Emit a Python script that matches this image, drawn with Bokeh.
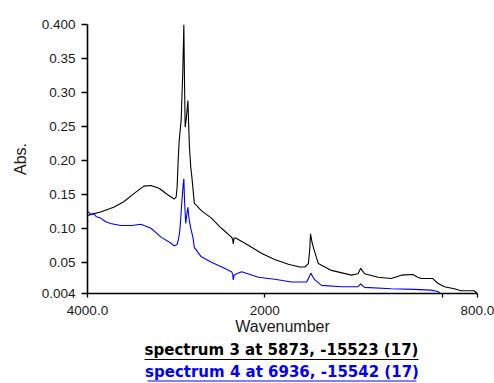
import numpy as np
from bokeh.plotting import figure
from bokeh.models import Range1d, FixedTicker
from bokeh.layouts import column
from bokeh.embed import file_html
from bokeh.resources import INLINE
from bokeh.core.properties import value

# ---------------- data ----------------
black_wn = [4000, 3852, 3705, 3591, 3477, 3364, 3284, 3193, 3091, 3023, 3000, 2989, 2977,
            2966, 2943, 2925, 2913, 2905, 2898, 2885, 2867, 2858, 2850, 2835, 2822, 2795,
            2716, 2602, 2489, 2375, 2362, 2356, 2345, 2318, 2185, 2034, 1944, 1867, 1803,
            1774, 1754, 1746, 1742, 1734, 1726, 1698, 1624, 1511, 1474, 1459, 1437, 1361,
            1287, 1230, 1165, 1137, 1118, 1052, 1024, 987, 931, 893, 819, 800]
black_abs = [0.119, 0.124, 0.131, 0.139, 0.151, 0.162, 0.163, 0.159, 0.149, 0.143, 0.146,
             0.160, 0.200, 0.228, 0.260, 0.330, 0.400, 0.310, 0.249, 0.262, 0.288, 0.250,
             0.220, 0.190, 0.175, 0.137, 0.126, 0.115, 0.100, 0.087, 0.084, 0.077, 0.086,
             0.085, 0.075, 0.063, 0.054, 0.047, 0.043, 0.043, 0.048, 0.070, 0.092, 0.080,
             0.072, 0.048, 0.038, 0.031, 0.033, 0.041, 0.033, 0.028, 0.026, 0.031, 0.032,
             0.028, 0.026, 0.026, 0.019, 0.014, 0.011, 0.008, 0.008, 0.004]

blue_wn = [4000, 3989, 3960, 3932, 3900, 3852, 3800, 3739, 3700, 3625, 3500, 3398, 3284,
           3170, 3057, 3023, 2990, 2977, 2962, 2955, 2935, 2920, 2913, 2905, 2892, 2880,
           2867, 2858, 2852, 2835, 2811, 2795, 2716, 2602, 2455, 2375, 2362, 2356, 2345,
           2318, 2261, 2072, 1944, 1848, 1764, 1752, 1740, 1728, 1717, 1680, 1567, 1474,
           1459, 1437, 1287, 1156, 1062, 1024, 1006, 900, 800]
blue_abs = [0.124, 0.124, 0.120, 0.122, 0.117, 0.115, 0.110, 0.107, 0.106, 0.104, 0.104,
            0.106, 0.100, 0.087, 0.078, 0.074, 0.076, 0.082, 0.093, 0.102, 0.140, 0.165,
            0.173, 0.140, 0.107, 0.120, 0.131, 0.118, 0.112, 0.100, 0.087, 0.072, 0.058,
            0.050, 0.041, 0.036, 0.033, 0.024, 0.031, 0.033, 0.036, 0.028, 0.025, 0.021,
            0.021, 0.027, 0.034, 0.028, 0.024, 0.016, 0.014, 0.014, 0.018, 0.013, 0.011,
            0.010, 0.009, 0.007, 0.003, 0.002, 0.002]

x_tick_wn = [4000, 2000, 1000, 800]
x_tick_labels = ["4000.0", "2000", "", "800.0"]
y_ticks = [0.004, 0.05, 0.10, 0.15, 0.20, 0.25, 0.30, 0.35, 0.40]
y_tick_labels = ["0.004", "0.05", "0.10", "0.15", "0.20", "0.25", "0.30", "0.35", "0.400"]
x_title = "Wavenumber"
y_title = "Abs."
legend_labels = ["spectrum 3 at 5873, -15523 (17)", "spectrum 4 at 6936, -15542 (17)"]
legend_colors = ["#000000", "#0000ff"]


def to_u(w):
    """Wavenumber axis with the region below 2000 expanded twofold."""
    w = np.asarray(w, dtype=float)
    return np.where(w >= 2000, 4000 - w, 2000 + 2 * (2000 - w))


FONT = "Liberation Sans"

p = figure(width=494, height=340, output_backend="svg", toolbar_location=None,
           title=None,
           x_range=Range1d(float(to_u(4000)), float(to_u(800))),
           y_range=Range1d(0.004, 0.400),
           min_border_left=87, min_border_right=17, min_border_top=24,
           min_border_bottom=47)
p.grid.visible = False
p.outline_line_color = None
p.background_fill_color = "white"
p.border_fill_color = "white"

p.line(to_u(black_wn), black_abs, line_color=legend_colors[0], line_width=1.1)
p.line(to_u(blue_wn), blue_abs, line_color=legend_colors[1], line_width=1.1)

xt = [float(v) for v in to_u(x_tick_wn)]
p.xaxis.ticker = FixedTicker(ticks=xt)
p.xaxis.major_label_overrides = {t: lab for t, lab in zip(xt, x_tick_labels)}
p.yaxis.ticker = FixedTicker(ticks=y_ticks)
p.yaxis.major_label_overrides = {t: lab for t, lab in zip(y_ticks, y_tick_labels)}
p.yaxis.axis_label = y_title
p.xaxis.axis_label = x_title

for ax in (p.xaxis[0], p.yaxis[0]):
    ax.axis_line_color = "black"
    ax.axis_line_width = 1.6
    ax.major_tick_line_color = "black"
    ax.major_tick_line_width = 1.3
    ax.major_tick_in = 0
    ax.minor_tick_line_color = None
    ax.major_label_text_font = FONT
    ax.major_label_text_font_size = "13.5px"
    ax.major_label_text_color = "#1a1a1a"
    ax.axis_label_text_font = FONT
    ax.axis_label_text_font_size = "16px"
    ax.axis_label_text_font_style = "normal"
    ax.axis_label_text_color = "#1a1a1a"
p.xaxis.major_tick_out = 4
p.xaxis.major_label_standoff = 8
p.xaxis.axis_label_standoff = 0
p.yaxis.major_tick_out = 6
p.yaxis.major_label_standoff = 6
p.yaxis.axis_label_standoff = 10

# ---------- bottom panel: underlined spectrum captions ----------
# The panel's frame shares the horizontal extent of the chart frame (87..477) and
# fills the panel's full height, so its coordinates are page pixels.
q = figure(width=494, height=43, output_backend="svg", toolbar_location=None,
           title=None,
           x_range=Range1d(87, 477), y_range=Range1d(383, 340),
           min_border_left=87, min_border_right=17, min_border_top=0,
           min_border_bottom=0, x_axis_location=None, y_axis_location=None)
q.grid.visible = False
q.outline_line_color = None
q.background_fill_color = "white"
q.border_fill_color = "white"

cap_y = [349.5, 371]
cap_x = [281, 281.5]
ul_x0 = [144, 147]
ul_x1 = [418, 416]
ul_y = [359, 380.5]
q.text(x=cap_x, y=cap_y, text=legend_labels, text_font=value("DejaVu Sans"),
       text_font_size="15px", text_font_style="bold", text_align="center",
       text_baseline="alphabetic", text_color=legend_colors)
q.segment(x0=ul_x0, x1=ul_x1, y0=ul_y, y1=ul_y, line_color=legend_colors, line_width=1.2)

layout = column(p, q, spacing=0)
open("out.html", "w").write(file_html(layout, INLINE))
